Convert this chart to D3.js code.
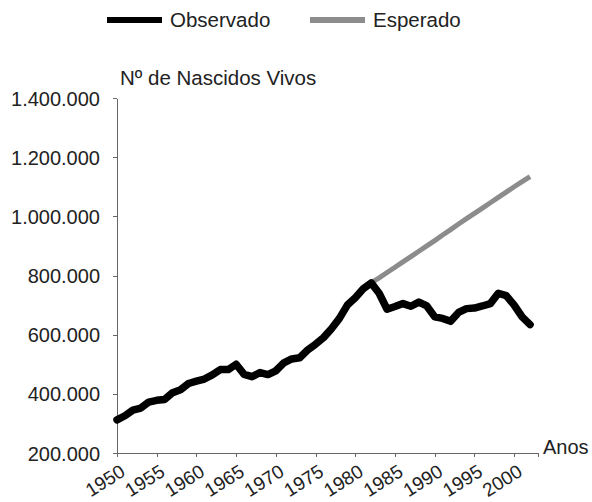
<!doctype html>
<html>
<head>
<meta charset="utf-8">
<style>
  body { margin: 0; background: #fff; }
  svg text { font-family: "Liberation Sans", Arial, sans-serif; fill: #222; }
  .axis path, .axis line { stroke: #666; shape-rendering: crispEdges; }
</style>
<script src="https://cdn.jsdelivr.net/npm/d3@7"></script>
</head>
<body>
<script>
// data
var years = d3.range(1950, 2003);
var observado = [312, 326, 345, 352, 372, 378, 381, 404, 414, 435,
  443, 450, 464, 482, 482, 500, 466, 458, 472, 465,
  478, 505, 518, 522, 548, 568, 590, 620, 655, 700,
  725, 755, 775, 740, 686, 695, 705, 696, 710, 697,
  660, 655, 645, 675, 688, 690, 697, 705, 740, 732,
  700, 660, 634];
var esperadoYears = d3.range(1982, 2003);
var esperado = [775, 792, 810, 828, 846, 864, 882, 900, 918, 937,
  955, 974, 992, 1010, 1028, 1046, 1064, 1082, 1100, 1117, 1134];
var yTicks = [200000, 400000, 600000, 800000, 1000000, 1200000, 1400000];
var xTicks = [1950, 1955, 1960, 1965, 1970, 1975, 1980, 1985, 1990, 1995, 2000];

var W = 592, H = 502;
var svg = d3.select('body').append('svg')
  .attr('width', W)
  .attr('height', H);

var x = d3.scaleLinear().domain([1950, 2003]).range([117, 538]);
var y = d3.scaleLinear().domain([200000, 1400000]).range([453, 98]);

var pt = d3.formatLocale({decimal: ',', thousands: '.', grouping: [3], currency: ['', '']});
var fmt = pt.format(',');

// y axis
var yAxis = svg.append('g')
  .attr('class', 'axis')
  .attr('transform', 'translate(117,0)')
  .call(d3.axisLeft(y).tickValues(yTicks).tickSize(4).tickSizeOuter(0).tickPadding(13).tickFormat(fmt));
yAxis.selectAll('text').style('font-size', '20px').attr('dy', '0.35em');

// x axis
var xAxis = svg.append('g')
  .attr('class', 'axis')
  .attr('transform', 'translate(0,453)')
  .call(d3.axisBottom(x).tickValues(xTicks).tickSize(4).tickSizeOuter(4).tickFormat(d3.format('d')));
xAxis.selectAll('text')
  .style('font-size', '19px')
  .attr('text-anchor', 'end')
  .attr('x', 0).attr('y', 0).attr('dy', 0)
  .attr('transform', 'translate(9,22) rotate(-32)');

svg.selectAll('.domain').attr('stroke', '#555');

// lines
var obsLine = d3.line()
  .x((d, i) => x(years[i]))
  .y(d => y(d * 1000));
var espLine = d3.line()
  .x((d, i) => x(esperadoYears[i]))
  .y(d => y(d * 1000));

svg.append('path')
  .datum(esperado)
  .attr('d', espLine)
  .attr('fill', 'none')
  .attr('stroke', '#8c8c8c')
  .attr('stroke-width', 5);

svg.append('path')
  .datum(observado)
  .attr('d', obsLine)
  .attr('fill', 'none')
  .attr('stroke', '#000')
  .attr('stroke-width', 7.5)
  .attr('stroke-linejoin', 'round')
  .attr('stroke-linecap', 'round');

// labels
svg.append('text')
  .text('Nº de Nascidos Vivos')
  .attr('x', 120)
  .attr('y', 85)
  .style('font-size', '20.5px');

svg.append('text')
  .text('Anos')
  .attr('x', 543)
  .attr('y', 454)
  .style('font-size', '20px');

// legend
var legend = svg.selectAll('.legend')
  .data([
    {name: 'Observado', color: '#000', x: 107},
    {name: 'Esperado', color: '#8c8c8c', x: 310}
  ])
  .enter().append('g')
  .attr('class', 'legend')
  .attr('transform', d => `translate(${d.x},0)`);

legend.append('rect')
  .attr('y', 17)
  .attr('width', 55)
  .attr('height', 6)
  .style('fill', d => d.color);

legend.append('text')
  .text(d => d.name)
  .attr('x', 63)
  .attr('y', 27)
  .style('font-size', '20.5px');
</script>
</body>
</html>
